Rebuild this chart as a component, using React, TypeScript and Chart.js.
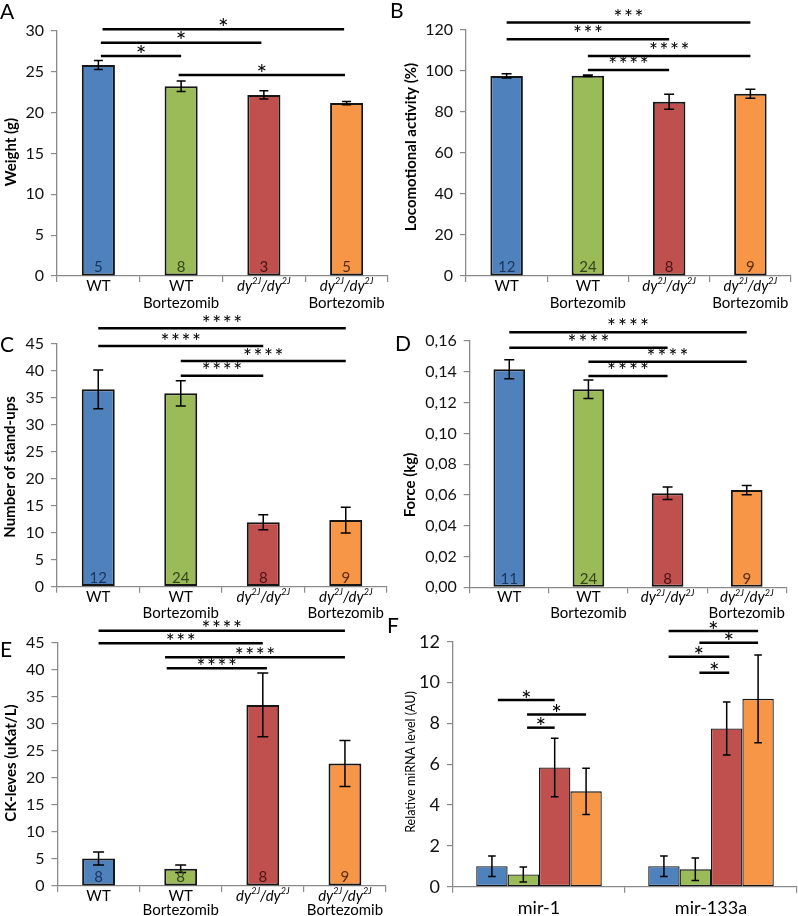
import React, { useEffect, useRef } from 'react';
import { Chart, registerables } from 'chart.js';

Chart.register(...registerables);

const W = 798;
const H = 916;
const FONT = 'Lato, "Open Sans", "DejaVu Sans", sans-serif';
const AXIS = '#8a8a8a';

// ---------- categories ----------
const groups = ['WT', 'WT\nBortezomib', 'dy^{2J}/dy^{2J}', 'dy^{2J}/dy^{2J}\nBortezomib'];
const mirCategories = ['mir-1', 'mir-133a'];
const groupColors = ['#4F81BD', '#9BBB59', '#C0504D', '#F79646'];
const nColors = ['#1b3560', '#34431a', '#4a1212', '#5a2c06'];

// ---------- A: weight ----------
const weightMean = [25.8, 23.2, 22.15, 21.15];
const weightSem = [0.55, 0.65, 0.5, 0.2];
const weightN = ['5', '8', '3', '5'];
const weightSig = [
  [0.05, 2.97, 30.17, 1],
  [0.03, 1.97, 28.53, 1],
  [0.03, 1.0, 26.9, 1],
  [0.97, 2.98, 24.58, 1],
];

// ---------- B: locomotion ----------
const locoMean = [97.6, 97.7, 85.0, 88.9];
const locoSem = [1.0, 0.4, 3.7, 2.2];
const locoN = ['12', '24', '8', '9'];
const locoSig = [
  [0, 3, 123.6, 3],
  [0, 2, 115.5, 3],
  [1, 3, 107.3, 4],
  [1, 2, 100.5, 4],
];

// ---------- C: stand-ups ----------
const standMean = [36.6, 35.85, 11.95, 12.35];
const standSem = [3.6, 2.35, 1.4, 2.4];
const standN = ['12', '24', '8', '9'];
const standSig = [
  [0, 3, 47.9, 4],
  [0, 2, 44.63, 4],
  [1, 3, 41.85, 4],
  [1, 2, 39.12, 4],
];

// ---------- D: force ----------
const forceMean = [0.1416, 0.1286, 0.0611, 0.0632];
const forceSem = [0.0062, 0.006, 0.004, 0.003];
const forceN = ['11', '24', '8', '9'];
const forceSig = [
  [0, 3, 0.1657, 4],
  [0, 2, 0.1556, 4],
  [1, 3, 0.1466, 4],
  [1, 2, 0.1373, 4],
];

// ---------- E: CK levels ----------
const ckMean = [5.1, 3.2, 33.5, 22.65];
const ckSem = [1.2, 0.7, 5.9, 4.25];
const ckN = ['8', '8', '8', '9'];
const ckSig = [
  [0, 3, 47.22, 4],
  [0, 2, 44.89, 3],
  [0.81, 3, 42.3, 4],
  [0.83, 2.05, 40.26, 4],
];

// ---------- F: miRNA ----------
const mirWT = [1.0, 1.0];
const mirWTErr = [0.5, 0.5];
const mirWTB = [0.6, 0.85];
const mirWTBErr = [0.37, 0.55];
const mirDy = [5.84, 7.75];
const mirDyErr = [1.43, 1.3];
const mirDyB = [4.67, 9.2];
const mirDyBErr = [1.13, 2.15];
// [category, fromBar, toBar, level, stars]
const mirSig = [
  [0, 0.19, 2, 9.14, 1],
  [0, 1.12, 3, 8.44, 1],
  [0, 1.12, 2, 7.79, 1],
  [1, 0.15, 3, 12.52, 1],
  [1, 1.13, 3, 11.95, 1],
  [1, 0.15, 2.08, 11.26, 1],
  [1, 1.13, 2.08, 10.48, 1],
];

type Panel = {
  letter: string;
  letterX: number;
  letterY: number;
  area: { left: number; top: number; right: number; bottom: number };
  max: number;
  step: number;
  title: string;
  titleFont: string;
  titleX: number;
  titleY: number;
  tickSize: number;
  fmt?: (v: number) => string;
  grouped?: boolean;
  categories: string[];
  series: { values: number[]; errs: number[]; color: string | string[] }[];
  ns?: string[];
  sig: number[][];
  starSize: number;
  starGap: number;
  starLift: number;
  capHalf: number;
  labelSize: number;
  labelOffsets: number[];
};

const single = (values: number[], errs: number[]) => [{ values, errs, color: groupColors }];

const panels: Panel[] = [
  {
    letter: 'A', letterX: 0, letterY: 19,
    area: { left: 57, top: 30.7, right: 388, bottom: 276 },
    max: 30, step: 5, title: 'Weight (g)', titleFont: `bold 15px ${FONT}`, titleX: 11, titleY: 152,
    tickSize: 16, categories: groups, series: single(weightMean, weightSem), ns: weightN, sig: weightSig,
    starSize: 25, starGap: 11, starLift: 6.5, capHalf: 4.5, labelSize: 15, labelOffsets: [10, 27],
  },
  {
    letter: 'B', letterX: 390, letterY: 18,
    area: { left: 466, top: 30, right: 791, bottom: 276 },
    max: 120, step: 20, title: 'Locomotional activity (%)', titleFont: `bold 15px ${FONT}`, titleX: 411, titleY: 147,
    tickSize: 16, categories: groups, series: single(locoMean, locoSem), ns: locoN, sig: locoSig,
    starSize: 21, starGap: 10.5, starLift: 9.5, capHalf: 5, labelSize: 15, labelOffsets: [10, 27],
  },
  {
    letter: 'C', letterX: 0, letterY: 352,
    area: { left: 57, top: 344, right: 387, bottom: 586.7 },
    max: 45, step: 5, title: 'Number of stand-ups', titleFont: `bold 15px ${FONT}`, titleX: 10, titleY: 467,
    tickSize: 16, categories: groups, series: single(standMean, standSem), ns: standN, sig: standSig,
    starSize: 21, starGap: 10.5, starLift: 9, capHalf: 5, labelSize: 15, labelOffsets: [10, 26],
  },
  {
    letter: 'D', letterX: 395, letterY: 351,
    area: { left: 469.7, top: 341, right: 786.3, bottom: 587.3 },
    max: 0.16, step: 0.02, title: 'Force (kg)', titleFont: `bold 15px ${FONT}`, titleX: 410, titleY: 485,
    tickSize: 16, fmt: (v: number) => v.toFixed(2).replace('.', ','),
    categories: groups, series: single(forceMean, forceSem), ns: forceN, sig: forceSig,
    starSize: 21, starGap: 11, starLift: 9.5, capHalf: 5, labelSize: 15, labelOffsets: [10, 26],
  },
  {
    letter: 'E', letterX: 0, letterY: 657,
    area: { left: 57.5, top: 642.7, right: 386, bottom: 886 },
    max: 45, step: 5, title: 'CK-leves (uKat/L)', titleFont: `bold 15px ${FONT}`, titleX: 11.5, titleY: 763,
    tickSize: 16, categories: groups, series: single(ckMean, ckSem), ns: ckN, sig: ckSig,
    starSize: 21, starGap: 10.5, starLift: 6, capHalf: 5.5, labelSize: 15, labelOffsets: [10, 24],
  },
  {
    letter: 'F', letterX: 387, letterY: 633,
    area: { left: 453, top: 641.7, right: 797, bottom: 886.7 },
    max: 12, step: 2, title: 'Relative miRNA level (AU)', titleFont: `12.5px ${FONT}`, titleX: 410.5, titleY: 762,
    tickSize: 18, grouped: true, categories: mirCategories,
    series: [
      { values: mirWT, errs: mirWTErr, color: groupColors[0] },
      { values: mirWTB, errs: mirWTBErr, color: groupColors[1] },
      { values: mirDy, errs: mirDyErr, color: groupColors[2] },
      { values: mirDyB, errs: mirDyBErr, color: groupColors[3] },
    ],
    sig: mirSig,
    starSize: 25, starGap: 11, starLift: 5.5, capHalf: 3.8, labelSize: 18, labelOffsets: [21],
  },
];

function drawRichLine(ctx: CanvasRenderingContext2D, line: string, cx: number, cy: number, size: number) {
  const parts: { t: string; sup: boolean }[] = [];
  const re = /\^\{([^}]*)\}/g;
  let last = 0;
  let m: RegExpExecArray | null;
  while ((m = re.exec(line))) {
    if (m.index > last) parts.push({ t: line.slice(last, m.index), sup: false });
    parts.push({ t: m[1], sup: true });
    last = re.lastIndex;
  }
  if (last < line.length) parts.push({ t: line.slice(last), sup: false });
  const italic = parts.some((p) => p.sup);
  const fontFor = (sup: boolean) => `${italic ? 'italic ' : ''}${sup ? Math.round(size * 0.6) : size}px ${FONT}`;
  let total = 0;
  const widths = parts.map((p) => {
    ctx.font = fontFor(p.sup);
    const w = ctx.measureText(p.t).width;
    total += w;
    return w;
  });
  let x = cx - total / 2;
  ctx.textAlign = 'left';
  ctx.textBaseline = 'middle';
  parts.forEach((p, k) => {
    ctx.font = fontFor(p.sup);
    ctx.fillText(p.t, x, p.sup ? cy - size * 0.3 : cy);
    x += widths[k];
  });
}

function overlay(p: Panel) {
  return {
    id: 'overlay' + p.letter,
    afterDatasetsDraw(chart: any) {
      const ctx: CanvasRenderingContext2D = chart.ctx;
      const xS = chart.scales.x;
      const yS = chart.scales.y;
      const area = chart.chartArea;
      ctx.save();
      ctx.fillStyle = '#000';
      ctx.strokeStyle = '#000';

      // error bars
      p.series.forEach((s, di) => {
        const meta = chart.getDatasetMeta(di);
        meta.data.forEach((bar: any, i: number) => {
          const top = yS.getPixelForValue(s.values[i] + s.errs[i]);
          const bot = yS.getPixelForValue(s.values[i] - s.errs[i]);
          ctx.lineWidth = 1.5;
          ctx.beginPath();
          ctx.moveTo(bar.x, top);
          ctx.lineTo(bar.x, bot);
          ctx.moveTo(bar.x - p.capHalf, top);
          ctx.lineTo(bar.x + p.capHalf, top);
          ctx.moveTo(bar.x - p.capHalf, bot);
          ctx.lineTo(bar.x + p.capHalf, bot);
          ctx.stroke();
        });
      });

      // n labels inside bars
      if (p.ns) {
        const meta = chart.getDatasetMeta(0);
        ctx.font = `15px ${FONT}`;
        ctx.textAlign = 'center';
        ctx.textBaseline = 'middle';
        meta.data.forEach((bar: any, i: number) => {
          ctx.fillStyle = nColors[i];
          ctx.fillText(p.ns![i], bar.x, area.bottom - 8.5);
        });
        ctx.fillStyle = '#000';
      }

      // significance brackets
      const meta0 = chart.getDatasetMeta(0);
      p.sig.forEach((b) => {
        let x1: number, x2: number, level: number, count: number;
        if (p.grouped) {
          const bar = meta0.data[b[0]];
          x1 = bar.x + b[1] * bar.width;
          x2 = bar.x + b[2] * bar.width;
          level = b[3];
          count = b[4];
        } else {
          x1 = xS.getPixelForValue(b[0]);
          x2 = xS.getPixelForValue(b[1]);
          level = b[2];
          count = b[3];
        }
        const y = yS.getPixelForValue(level);
        ctx.lineWidth = 2.5;
        ctx.beginPath();
        ctx.moveTo(x1, y);
        ctx.lineTo(x2, y);
        ctx.stroke();
        ctx.font = `${p.starSize}px ${FONT}`;
        ctx.textAlign = 'center';
        ctx.textBaseline = 'alphabetic';
        const cx = (x1 + x2) / 2;
        const base = y - p.starLift + p.starSize * 0.56;
        for (let k = 0; k < count; k++) {
          const sx = cx + (k - (count - 1) / 2) * p.starGap;
          ctx.fillText('*', sx, base);
        }
      });

      // category labels
      ctx.fillStyle = '#000';
      p.categories.forEach((label, i) => {
        const cx = xS.getPixelForValue(i);
        label.split('\n').forEach((line, k) => {
          drawRichLine(ctx, line, cx, area.bottom + p.labelOffsets[k], p.labelSize);
        });
      });

      // y title
      ctx.save();
      ctx.translate(p.titleX, p.titleY);
      ctx.rotate(-Math.PI / 2);
      ctx.font = p.titleFont;
      ctx.textAlign = 'center';
      ctx.textBaseline = 'middle';
      ctx.fillText(p.title, 0, 0);
      ctx.restore();

      // panel letter
      ctx.font = `21px ${FONT}`;
      ctx.textAlign = 'left';
      ctx.textBaseline = 'alphabetic';
      ctx.fillText(p.letter, p.letterX, p.letterY);

      ctx.restore();
    },
  };
}

function buildConfig(p: Panel): any {
  const datasets = p.series.map((s) => ({
    data: s.values,
    backgroundColor: s.color,
    borderColor: '#161616',
    borderWidth: p.grouped ? 1.3 : 2,
    borderSkipped: false,
    categoryPercentage: p.grouped ? 0.73 : 0.8,
    barPercentage: p.grouped ? 1 : 0.5,
  }));
  return {
    type: 'bar',
    data: { labels: p.categories, datasets },
    options: {
      responsive: false,
      animation: false,
      devicePixelRatio: 1,
      events: [],
      layout: {
        padding: {
          left: p.area.left - 60,
          top: p.area.top,
          right: W - p.area.right,
          bottom: H - p.area.bottom - 20,
        },
      },
      plugins: { legend: { display: false }, tooltip: { enabled: false }, title: { display: false } },
      scales: {
        x: {
          ticks: { display: false },
          grid: { display: true, drawOnChartArea: false, drawTicks: true, tickLength: 6, color: AXIS, lineWidth: 1.2, offset: true },
          border: { display: true, color: AXIS, width: 1.3 },
          afterFit: (s: any) => { s.height = 20; },
        },
        y: {
          min: 0,
          max: p.max,
          ticks: {
            stepSize: p.step,
            color: '#111',
            padding: 7,
            font: { family: FONT, size: p.tickSize },
            callback: (v: any) => (p.fmt ? p.fmt(Number(v)) : String(v)),
          },
          grid: { display: true, drawOnChartArea: false, drawTicks: true, tickLength: 6, color: AXIS, lineWidth: 1.2 },
          border: { display: true, color: AXIS, width: 1.3 },
          afterFit: (s: any) => { s.width = 60; },
        },
      },
    },
    plugins: [overlay(p)],
  };
}

function PanelChart({ p }: { p: Panel }) {
  const ref = useRef<HTMLCanvasElement>(null);
  useEffect(() => {
    const chart = new Chart(ref.current!, buildConfig(p));
    return () => chart.destroy();
  }, [p]);
  return (
    <canvas
      ref={ref}
      width={W}
      height={H}
      style={{ position: 'absolute', left: 0, top: 0, width: W, height: H }}
    />
  );
}

export default function App() {
  return (
    <div style={{ position: 'absolute', left: 0, top: 0, width: W, height: H, background: '#fff', overflow: 'hidden' }}>
      {panels.map((p) => (
        <PanelChart key={p.letter} p={p} />
      ))}
    </div>
  );
}
